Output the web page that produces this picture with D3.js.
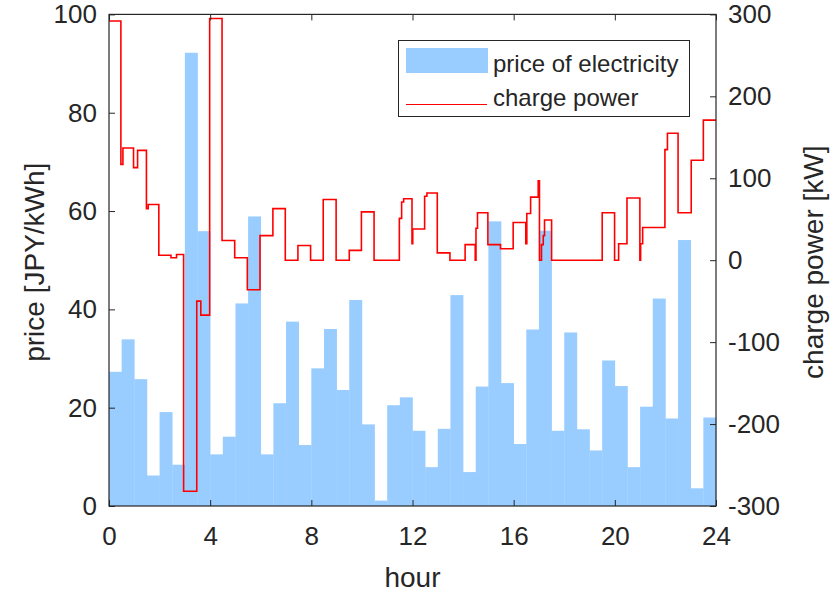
<!DOCTYPE html>
<html lang="en">
	<head>
		<meta charset="UTF-8" />
		<title>price and charge power</title>
		<style>
			body { margin: 0; background: #fff; }
			svg text { font-family: 'Liberation Sans', Arial, sans-serif; fill: #262626; }
		</style>
	</head>
	<body>
		<svg id="svg" width="830" height="592"></svg>
		<script src="https://d3js.org/d3.v7.min.js"></script>
		<script>
			// price of electricity, one value per half hour (JPY/kWh)
			const price = [
				27.3, 33.9, 25.8, 6.2, 19.1, 8.4, 92.2, 55.9,
				10.5, 14.1, 41.2, 58.9, 10.5, 20.9, 37.5, 12.4,
				28.0, 36.0, 23.6, 41.9, 16.6, 1.1, 20.5, 22.1,
				15.3, 7.9, 15.7, 42.9, 6.9, 24.3, 57.9, 25.0,
				12.6, 35.9, 56.0, 15.3, 35.3, 15.6, 11.3, 29.6,
				24.4, 7.9, 20.2, 42.2, 17.8, 54.1, 3.6, 18.0,
			];

			// charge power, step changes (hour, kW)
			const powerTimes = [
				0, 0.47, 0.55, 0.97, 1.13, 1.48, 1.55, 1.97, 2.45, 2.67,
				2.95, 3.47, 3.63, 3.98, 4.47, 4.97, 5.47, 5.97, 6.48, 6.97,
				7.47, 7.97, 8.47, 8.98, 9.5, 9.98, 10.48, 11.48, 11.57, 11.65,
				11.98, 12.01, 12.48, 12.57, 12.98, 13.48, 14.08, 14.48, 14.51, 14.57,
				14.98, 15.48, 15.98, 16.48, 16.52, 16.67, 16.97, 17.02, 17.1, 17.17,
				17.22, 17.5, 19.5, 19.99, 20.15, 20.48, 20.99, 21.02, 21.1, 21.98,
				22.08, 22.5, 23.02, 23.5, 24,
			];
			const powerValues = [
				292, 117, 137, 113, 134, 63, 68, 6, 3, 7,
				-282, -50, -67, 295, 24, 3, -36, 30, 63, 0,
				18, 0, 74, 0, 12, 59, 0, 51, 71, 75,
				20, 38, 78, 82, 9, 0, 19, 0, 39, 58,
				19, 14, 46, 20, 57, 77, 97, 0, 19, 30,
				49, 0, 58, 0, 20, 76, 0, 20, 40, 135,
				155, 58, 122, 171, 171,
			];

			const xTicks = [0, 4, 8, 12, 16, 20, 24];
			const leftTicks = [0, 20, 40, 60, 80, 100];
			const rightTicks = [-300, -200, -100, 0, 100, 200, 300];

			const width = 830;
			const height = 592;
			const margin = { left: 109, right: 114, top: 14.4, bottom: 86 };
			const axisColor = '#262626';

			const svg = d3.select('#svg');

			// Scales
			const x = d3.scaleLinear().domain([0, 24]).range([margin.left, width - margin.right]);
			const yLeft = d3.scaleLinear().domain([0, 100]).range([height - margin.bottom, margin.top]);
			const yRight = d3.scaleLinear().domain([-300, 300]).range([height - margin.bottom, margin.top]);

			// Bars
			const barW = x(0.5) - x(0);
			svg
				.append('g')
				.selectAll('rect')
				.data(price)
				.join('rect')
				.attr('x', (d, i) => x(i * 0.5))
				.attr('y', (d) => yLeft(d))
				.attr('width', barW + 0.3)
				.attr('height', (d) => yLeft(0) - yLeft(d))
				.attr('fill', '#99ccff');

			// Line
			const power = powerTimes.map((t, i) => ({ t: t, v: powerValues[i] }));
			const linegen = d3
				.line()
				.x((d) => x(d.t))
				.y((d) => yRight(d.v))
				.curve(d3.curveStepAfter);
			svg
				.append('path')
				.attr('d', linegen(power))
				.attr('fill', 'none')
				.attr('stroke', '#ff0000')
				.attr('stroke-width', 1.6);

			// Axes
			const tickFont = '26px';
			const bottomAxis = d3.axisBottom(x).tickValues(xTicks).tickSizeInner(-6).tickSizeOuter(0).tickPadding(21);
			const topAxis = d3.axisTop(x).tickValues(xTicks).tickSizeInner(-6).tickSizeOuter(0).tickFormat('');
			const leftAxis = d3.axisLeft(yLeft).tickValues(leftTicks).tickSizeInner(-6).tickSizeOuter(0).tickPadding(12);
			const rightAxis = d3
				.axisRight(yRight)
				.tickValues(rightTicks)
				.tickFormat((d) => String(d))
				.tickSizeInner(-6)
				.tickSizeOuter(0)
				.tickPadding(12);

			function styleAxis(g) {
				g.select('.domain').remove();
				g.selectAll('line').attr('stroke', axisColor).attr('stroke-width', 1);
				g.selectAll('text').style('font-size', tickFont).attr('fill', axisColor);
			}

			svg.append('g').attr('transform', `translate(0, ${height - margin.bottom})`).call(bottomAxis).call(styleAxis);
			svg.append('g').attr('transform', `translate(0, ${margin.top})`).call(topAxis).call(styleAxis);
			svg.append('g').attr('transform', `translate(${margin.left}, 0)`).call(leftAxis).call(styleAxis);
			svg.append('g').attr('transform', `translate(${width - margin.right}, 0)`).call(rightAxis).call(styleAxis);

			// Box
			svg
				.append('rect')
				.attr('x', margin.left)
				.attr('y', margin.top)
				.attr('width', width - margin.left - margin.right)
				.attr('height', height - margin.top - margin.bottom)
				.attr('fill', 'none')
				.attr('stroke', axisColor)
				.attr('stroke-width', 1.2);

			// Axis labels
			const midY = (margin.top + height - margin.bottom) / 2;
			svg
				.append('text')
				.attr('x', x(12))
				.attr('y', 587)
				.attr('text-anchor', 'middle')
				.style('font-size', '28px')
				.text('hour');
			svg
				.append('text')
				.attr('transform', `translate(44, ${midY + 2}) rotate(-90)`)
				.attr('text-anchor', 'middle')
				.style('font-size', '28px')
				.text('price [JPY/kWh]');
			svg
				.append('text')
				.attr('transform', `translate(823, ${midY + 2}) rotate(-90)`)
				.attr('text-anchor', 'middle')
				.style('font-size', '28px')
				.text('charge power [kW]');

			// Legend
			const legend = svg.append('g');
			legend
				.append('rect')
				.attr('x', 398.5)
				.attr('y', 40.5)
				.attr('width', 291)
				.attr('height', 76)
				.attr('fill', '#fff')
				.attr('stroke', axisColor)
				.attr('stroke-width', 1);
			legend
				.append('rect')
				.attr('x', 406)
				.attr('y', 48)
				.attr('width', 82)
				.attr('height', 25)
				.attr('fill', '#99ccff');
			legend
				.append('line')
				.attr('x1', 406)
				.attr('x2', 487)
				.attr('y1', 104.5)
				.attr('y2', 104.5)
				.attr('stroke', '#ff0000')
				.attr('stroke-width', 1);
			legend
				.append('text')
				.attr('x', 493)
				.attr('y', 72)
				.style('font-size', '24px')
				.text('price of electricity');
			legend
				.append('text')
				.attr('x', 493)
				.attr('y', 106)
				.style('font-size', '24px')
				.text('charge power');
		</script>
	</body>
</html>
